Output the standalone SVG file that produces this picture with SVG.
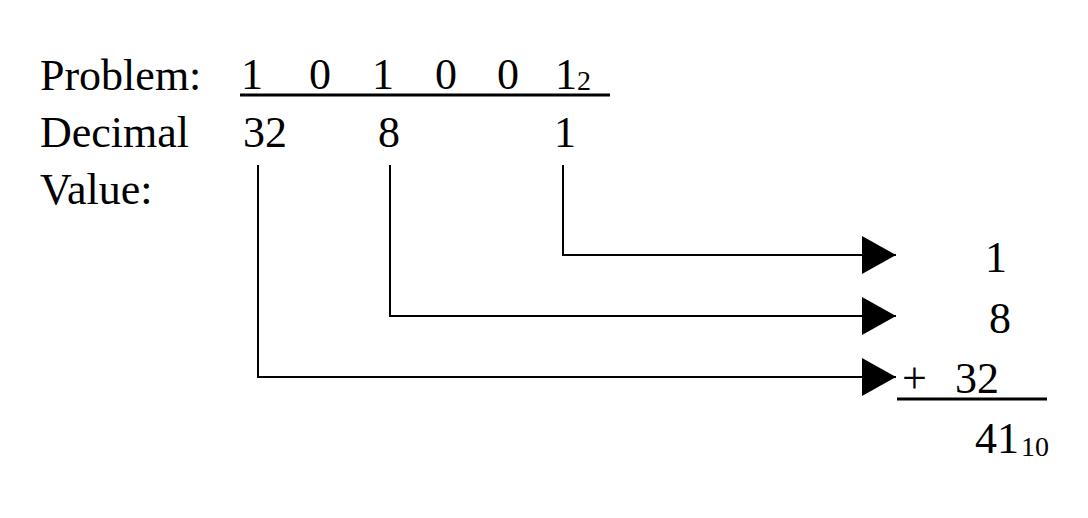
<svg xmlns="http://www.w3.org/2000/svg" width="1088" height="518" viewBox="0 0 1088 518">
<defs>
<style>
text{font-family:"Liberation Serif","Times New Roman",serif;font-size:44px;fill:#000}
.sub{font-size:28px}
.ln{stroke:#000;stroke-width:2;fill:none}
.rule{stroke:#000;stroke-width:3;fill:none}
</style>
<marker id="ah" markerUnits="userSpaceOnUse" markerWidth="36" markerHeight="40" refX="34" refY="20" orient="auto">
<path d="M0,1 L34,20 L0,39 Z" fill="#000"/>
</marker>
</defs>
<rect width="1088" height="518" fill="#fff"/>
<g id="labels">
<text x="40" y="90">Problem:</text>
<text x="40" y="147">Decimal</text>
<text x="40" y="204">Value:</text>
</g>
<g id="problem">
<text x="241" y="89">1</text>
<text x="309" y="89">0</text>
<text x="372" y="89">1</text>
<text x="435" y="89">0</text>
<text x="497" y="89">0</text>
<text x="555" y="89">1</text>
<text class="sub" x="577" y="90">2</text>
<line class="rule" x1="240" y1="95" x2="610" y2="95"/>
</g>
<g id="decimal">
<text x="243" y="147">32</text>
<text x="378" y="147">8</text>
<text x="554" y="147">1</text>
</g>
<g id="connectors">
<path class="ln" d="M563,165 V255 H896" marker-end="url(#ah)"/>
<path class="ln" d="M390,165 V316 H896" marker-end="url(#ah)"/>
<path class="ln" d="M258,165 V377 H896" marker-end="url(#ah)"/>
</g>
<g id="sum">
<text x="985" y="272">1</text>
<text x="989" y="333">8</text>
<text x="902" y="393">+</text>
<text x="955" y="393">32</text>
<line class="rule" x1="897" y1="399" x2="1047" y2="399"/>
<text x="975" y="453">41</text>
<text class="sub" x="1021" y="456">10</text>
</g>
</svg>
